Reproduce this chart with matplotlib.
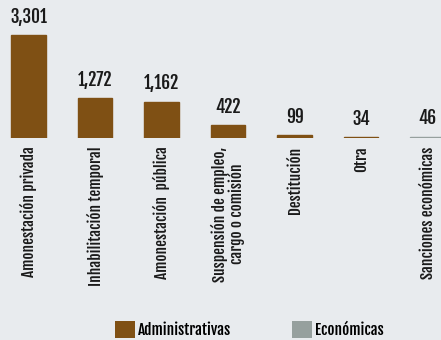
import matplotlib
matplotlib.use("Agg")
from matplotlib import pyplot as plt
from matplotlib.patches import Patch

categories = [
    "Amonestación privada",
    "Inhabilitación temporal",
    "Amonestación  pública",
    "Suspensión de empleo,\ncargo o comisión",
    "Destitución",
    "Otra",
    "Sanciones económicas",
]
values = [3301, 1272, 1162, 422, 99, 34, 46]
kinds = ["adm", "adm", "adm", "adm", "adm", "adm", "eco"]

brown = "#7f5014"
grey = "#96a09e"
bg = "#e8ebee"
colors = {"adm": brown, "eco": grey}

plt.rcParams["font.family"] = ["Fjalla One", "Oswald", "DejaVu Sans"]
plt.rcParams["font.weight"] = "bold"

fig = plt.figure(figsize=(4.41, 3.40), dpi=100, facecolor=bg)
ax = fig.add_axes([0, 0.594, 1, 0.406])
ax.set_facecolor(bg)

x = list(range(len(values)))
bar_colors = [colors[k] for k in kinds]
ax.bar(x, values, width=0.52, color=bar_colors, edgecolor=bar_colors, linewidth=1)

for xi, v in zip(x, values):
    ax.annotate(f"{v:,}", (xi, v), xytext=(0, 6), textcoords="offset points",
                ha="center", va="bottom", fontsize=12.5, color="#1a1a1a")

ax.set_xlim(-0.43, 6.2)
ax.set_ylim(0, 4420)
ax.set_xticks(x)
ax.set_xticklabels(categories, rotation=90, ha="center", va="top",
                   fontsize=11, color="#1a1a1a", linespacing=1.0)
ax.tick_params(axis="x", length=0, pad=6)
ax.set_yticks([])
for s in ax.spines.values():
    s.set_visible(False)

handles = [Patch(facecolor=brown, label="Administrativas"),
           Patch(facecolor=grey, label="Económicas")]
fig.legend(handles=handles, loc="lower center", bbox_to_anchor=(0.565, -0.035),
           ncol=2, frameon=False, fontsize=11, handlelength=1.3, handleheight=1.3,
           handletextpad=0.2, columnspacing=4.0)

fig.savefig("out.png", dpi=100, facecolor=bg)
